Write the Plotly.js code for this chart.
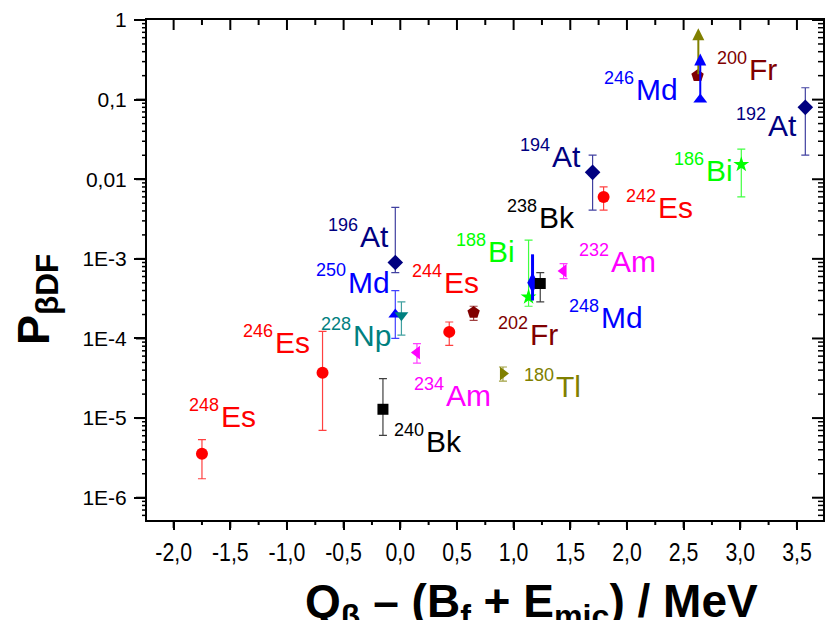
<!DOCTYPE html>
<html><head><meta charset="utf-8">
<script src="https://cdn.plot.ly/plotly-3.0.1.min.js"></script>
<style>html,body{margin:0;padding:0;background:#fff}</style>
</head><body><div id="chart" style="width:833px;height:620px"></div>
<script>
// ---- data ----
const nuclides = ['248Es','246Es','240Bk','196At','250Md','228Np','234Am','244Es','202Fr','180Tl','188Bi','248Md','238Bk','232Am','194At','242Es','200Fr','246Md','186Bi','192At'];
const massNumbers = ['248','246','240','196','250','228','234','244','202','180','188','248','238','232','194','242','200','246','186','192'];
const elements = ['Es','Es','Bk','At','Md','Np','Am','Es','Fr','Tl','Bi','Md','Bk','Am','At','Es','Fr','Md','Bi','At'];
const qValues = [-1.75,-0.686,-0.153,-0.044,-0.044,0.01,0.147,0.432,0.647,0.906,1.132,1.167,1.235,1.441,1.697,1.794,2.623,2.647,3.009,3.574];
const pValues = [3.57e-6,3.72e-5,1.29e-5,9.0e-4,2.0e-4,1.96e-4,6.65e-5,1.21e-4,2.12e-4,3.62e-5,3.32e-4,5.0e-4,4.9e-4,7.05e-4,0.0122,6.0e-3,0.2,0.1,0.0153,0.08];
const pUpper = [5.36e-6,1.23e-4,3.13e-5,4.42e-3,4.0e-4,2.88e-4,8.6e-5,1.61e-4,2.54e-4,4.38e-5,1.72e-3,1.14e-3,6.7e-4,8.7e-4,0.0201,8.0e-3,null,null,0.0239,0.141];
const pLower = [1.73e-6,7.0e-6,6.07e-6,6.7e-4,1.0e-4,1.1e-4,4.9e-5,8.2e-5,1.69e-4,2.92e-5,2.54e-4,3.0e-4,2.88e-4,5.66e-4,4.09e-3,4.1e-3,null,null,6.0e-3,0.0201];
// lower-limit arrows
const limitX = [2.63, 2.647];
const limitFrom = [0.2, 0.1];
const limitTo = [0.79, 0.38];
const limitElement = ['Tl', 'Md'];
// ticks
const xTickVals = [-2,-1.5,-1,-0.5,0,0.5,1,1.5,2,2.5,3,3.5];
const xTickText = ['-2,0','-1,5','-1,0','-0,5','0,0','0,5','1,0','1,5','2,0','2,5','3,0','3,5'];
const xMinorVals = [-1.75,-1.25,-0.75,-0.25,0.25,0.75,1.25,1.75,2.25,2.75,3.25];
const yTickVals = [1,0.1,0.01,1e-3,1e-4,1e-5,1e-6];
const yTickText = ['1','0,1','0,01','1E-3','1E-4','1E-5','1E-6'];
const yMinorDigits = [2,3,4,5,6,7,8,9];
const yMinorDecades = [1e-7,1e-6,1e-5,1e-4,1e-3,1e-2,1e-1];

// ---- styles ----
const elementColor = {Es:'#FF0000',Bk:'#000000',At:'#000080',Md:'#0000FF',Np:'#008080',Am:'#FF00FF',Fr:'#800000',Tl:'#808000',Bi:'#00FF00'};
const symbols = {'248Es':'circle','246Es':'circle','244Es':'circle','242Es':'circle','240Bk':'square','238Bk':'square',
  '196At':'diamond','194At':'diamond','192At':'diamond','250Md':'triangle-up','246Md':'triangle-up','248Md':'diamond-tall',
  '228Np':'triangle-down','234Am':'triangle-left','232Am':'triangle-left','202Fr':'pentagon','200Fr':'pentagon',
  '180Tl':'triangle-right','188Bi':'star','186Bi':'star'};
const sizes = {circle:12,square:11,diamond:12,'triangle-up':12,'triangle-down':12,'triangle-left':12,'triangle-right':12,pentagon:13,star:12,'diamond-tall':15};
// label offsets (px): left edge of element symbol, vertical centre of capitals, relative to the point
const labelOffset = {'248Es':[17.6,-37.5],'246Es':[-49,-29.8],'240Bk':[42.3,32],'196At':[-36.7,-25.8],'250Md':[-48.3,-32.5],
  '228Np':[-49.3,20.2],'234Am':[28.3,43.1],'244Es':[-6.3,-49.2],'202Fr':[55,21.9],'180Tl':[52.3,12.5],'188Bi':[-41.6,-45.2],
  '248Md':[67,34.8],'238Bk':[-2.7,-65.8],'232Am':[46,-9],'194At':[-41.6,-15.6],'242Es':[53.4,10.8],'200Fr':[50,-6.5],
  '246Md':[-65,-9.8],'186Bi':[-36,5.7],'192At':[-38.3,18.5]};

function rgba(hex, a){const n=parseInt(hex.slice(1),16);return `rgba(${n>>16},${(n>>8)&255},${n&255},${a})`;}

const xr = [-2.235, 3.73];
const yr = [-6.28, 0];
const yMinorVals = [];
yMinorDecades.forEach(d=>yMinorDigits.forEach(k=>{const v=k*d; if(Math.log10(v)>yr[0] && Math.log10(v)<yr[1]) yMinorVals.push(v);}));

const traces = [];
nuclides.forEach((nuc,i)=>{
  const col = elementColor[elements[i]];
  const hasErr = pUpper[i] !== null;
  const sym = symbols[nuc];
  traces.push({
    type:'scatter', mode:'markers', x:[qValues[i]], y:[pValues[i]], showlegend:false, hoverinfo:'skip',
    marker:{symbol:sym, size:sizes[sym], color:col, line:{width:0}},
    error_y: hasErr ? {type:'data', symmetric:false, array:[pUpper[i]-pValues[i]], arrayminus:[pValues[i]-pLower[i]],
      color: nuc==='248Md' ? col : rgba(col,0.75), thickness: nuc==='248Md' ? 3 : 1.2, width: nuc==='248Md' ? 0 : 4} : {visible:false}
  });
});

const annotations = [];
nuclides.forEach((nuc,i)=>{
  const col = elementColor[elements[i]];
  const [dx,dy] = labelOffset[nuc];
  const base = {xref:'x', yref:'y', x:qValues[i], y:Math.log10(pValues[i]), showarrow:false, yanchor:'middle', borderpad:0};
  annotations.push(Object.assign({}, base, {text:elements[i], xanchor:'left', xshift:dx, yshift:-dy,
    font:{family:'Liberation Sans, Arial, sans-serif', size:30, color:col}}));
  annotations.push(Object.assign({}, base, {text:massNumbers[i], xanchor:'right', xshift:dx, yshift:-(dy-11.6),
    font:{family:'Liberation Sans, Arial, sans-serif', size:18, color:col}}));
});
limitX.forEach((lx,i)=>{
  annotations.push({xref:'x', yref:'y', axref:'x', ayref:'y', x:lx, y:Math.log10(limitTo[i]), ax:lx, ay:Math.log10(limitFrom[i]),
    text:'', showarrow:true, arrowhead:2, arrowsize:1.2, arrowwidth:2, arrowcolor:elementColor[limitElement[i]], standoff:0, startstandoff:0});
});
// axis titles
annotations.push({xref:'paper', yref:'paper', x:(531-147)/676, y:(520-573)/500, xanchor:'center', yanchor:'top', showarrow:false,
  text:'<b>Q<sub>β</sub> – (B<sub>f</sub> + E<sub>mic</sub>) / MeV</b>', font:{family:'Liberation Sans, Arial, sans-serif', size:46, color:'#000'}});
annotations.push({xref:'paper', yref:'paper', x:(36-147)/676, y:(520-300)/500, xanchor:'center', yanchor:'middle', showarrow:false, textangle:-90,
  text:'<b>P<sub>βDF</sub></b>', font:{family:'Liberation Sans, Arial, sans-serif', size:45, color:'#000'}});

// tick marks as shapes: bottom/left outside, top/right inside
const shapes = [];
function xTick(v, anchor, len, w){shapes.push({type:'line', xref:'x', yref:'paper', ysizemode:'pixel', yanchor:anchor, x0:v, x1:v, y0:0, y1:len, line:{color:'#000', width:w}});}
function yTick(v, anchor, len, w){shapes.push({type:'line', yref:'y', xref:'paper', xsizemode:'pixel', xanchor:anchor, y0:v, y1:v, x0:0, x1:len, line:{color:'#000', width:w}});}
xTickVals.forEach(v=>{xTick(v,0,-8,2); xTick(v,1,-10,2);});
xMinorVals.forEach(v=>{xTick(v,0,-5,2); xTick(v,1,-5,2);});
yTickVals.forEach(v=>{yTick(v,0,-11,2); yTick(v,1,-11,2);});
yMinorVals.forEach(v=>{yTick(v,0,-5,1.5); yTick(v,1,-5,1.5);});

const layout = {
  width:833, height:620, paper_bgcolor:'#fff', plot_bgcolor:'#fff',
  margin:{l:147, r:10, t:20, b:100},
  showlegend:false,
  xaxis:{range:xr, tickmode:'array', tickvals:xTickVals, ticktext:xTickText, ticks:'outside', ticklen:8, tickwidth:2, tickcolor:'#000',
    showline:true, mirror:true, linewidth:2, linecolor:'#000', showgrid:false, zeroline:false,
    tickfont:{family:'Liberation Sans, Arial, sans-serif', size:26, color:'#000'}},
  yaxis:{type:'log', range:yr, tickmode:'array', tickvals:yTickVals, ticktext:yTickText, ticks:'outside', ticklen:11, tickwidth:2, tickcolor:'#000',
    showline:true, mirror:true, linewidth:2, linecolor:'#000', showgrid:false, zeroline:false, ticklabelstandoff:3,
    tickfont:{family:'Liberation Sans, Arial, sans-serif', size:21, color:'#000'}},
  shapes: shapes,
  annotations: annotations
};
Plotly.newPlot('chart', traces, layout, {displayModeBar:false}).then(()=>{
  // condense the x tick labels horizontally (narrow face in the reference)
  document.querySelectorAll('.xtick text').forEach(t=>{
    const len = t.getComputedTextLength();
    if(len>0){ t.setAttribute('textLength', (len*0.82).toFixed(1)); t.setAttribute('lengthAdjust','spacingAndGlyphs'); }
  });
});
</script></body></html>
